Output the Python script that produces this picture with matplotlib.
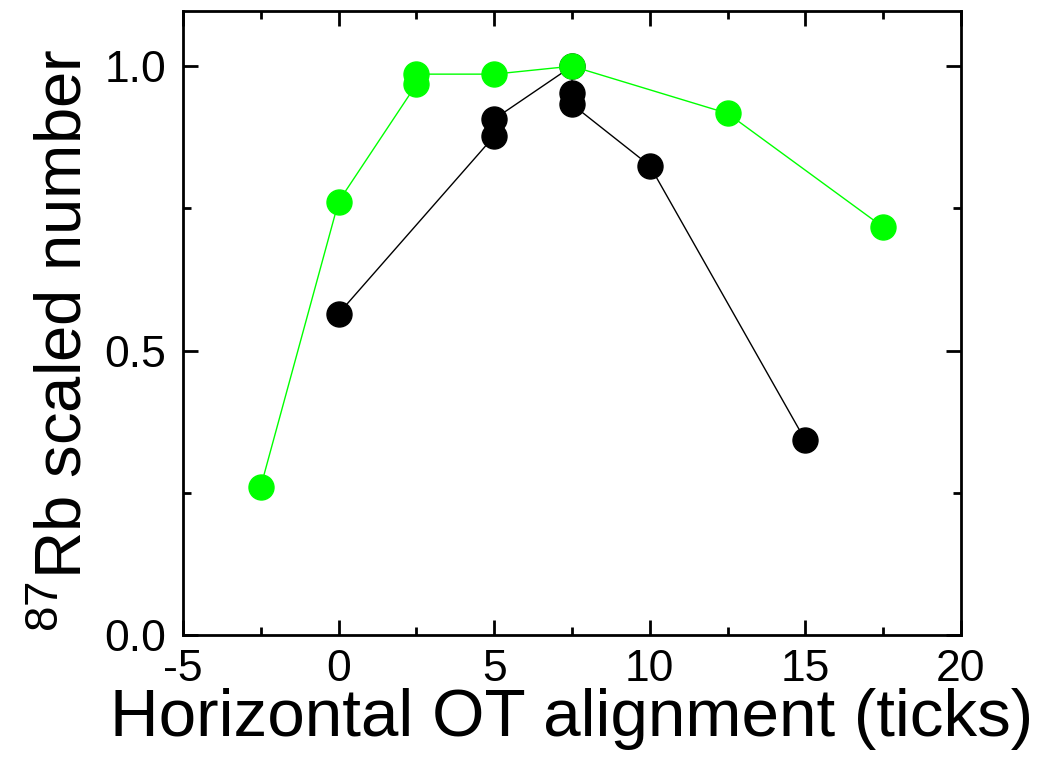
import numpy as np
import matplotlib.pyplot as plt
from matplotlib.ticker import MultipleLocator

# Horizontal OT alignment scan, 87Rb atom number normalised to the maximum
x_green = [-2.5, 0.0, 2.5, 2.5, 5.0, 7.5, 12.5, 17.5]
y_green = [0.261, 0.762, 0.968, 0.986, 0.986, 1.0, 0.917, 0.717]

x_black = [0.0, 5.0, 5.0, 7.5, 7.5, 7.5, 10.0, 15.0]
y_black = [0.565, 0.877, 0.907, 1.0, 0.952, 0.933, 0.825, 0.342]

plt.rcParams['font.family'] = ['Liberation Sans', 'DejaVu Sans']
plt.rcParams['axes.unicode_minus'] = False
plt.rcParams['mathtext.fontset'] = 'custom'
plt.rcParams['mathtext.rm'] = 'Liberation Sans'

fig = plt.figure(figsize=(10.43, 7.63), dpi=100)
ax = fig.add_axes([183 / 1043, 128 / 763, 778 / 1043, 624 / 763])

ax.plot(x_black, y_black, color='black', lw=1, marker='o', ms=18,
        mfc='black', mec='black', zorder=2)
ax.plot(x_green, y_green, color='#00ff00', lw=1, marker='o', ms=18,
        mfc='#00ff00', mec='#00ff00', zorder=3)

ax.set_xlim(-5, 20)
ax.set_ylim(0, 1.097)
ax.xaxis.set_major_locator(MultipleLocator(5))
ax.xaxis.set_minor_locator(MultipleLocator(2.5))
ax.yaxis.set_minor_locator(MultipleLocator(0.25))
ax.set_yticks([0, 0.5, 1.0])
ax.set_yticklabels(['0.0', '0.5', '1.0'])

ax.tick_params(which='both', direction='in', top=True, right=True,
               width=2, labelsize=32)
ax.tick_params(axis='x', pad=10)
ax.tick_params(axis='y', pad=12)
ax.tick_params(which='major', length=11)
ax.tick_params(which='minor', length=6)
for s in ax.spines.values():
    s.set_linewidth(2)

ax.set_xlabel('Horizontal OT alignment (ticks)', fontsize=48.5)
ax.set_ylabel(r'$\mathrm{^{87}}$Rb scaled number', fontsize=47)
ax.xaxis.set_label_coords(0.5, -0.085)
ax.yaxis.set_label_coords(-0.114, 0.473)

fig.savefig('out.png', dpi=100)
